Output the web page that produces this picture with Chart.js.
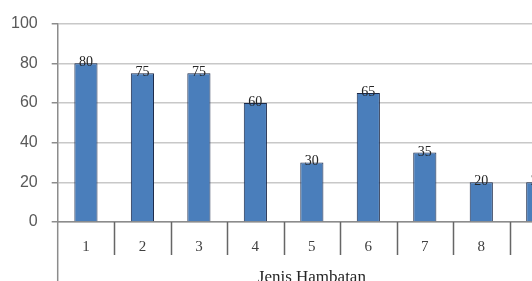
<!DOCTYPE html>
<html>
<head>
<meta charset="utf-8">
<script src="https://cdn.jsdelivr.net/npm/chart.js@4.4.0/dist/chart.umd.min.js"></script>
<style>
  html, body { margin: 0; padding: 0; background: #fff; overflow: hidden; }
  canvas { position: absolute; left: 0; top: 0; }
</style>
</head>
<body>
<canvas id="chart" width="566" height="288"></canvas>
<script>
// Jenis Hambatan chart data
const categories = ["1", "2", "3", "4", "5", "6", "7", "8", "9"];
const values = [80, 75, 75, 60, 30, 65, 35, 20, 20];
const yTicks = [0, 20, 40, 60, 80, 100];
const xTitle = "Jenis Hambatan";

// Value labels sitting on top of each bar
const barLabels = {
  id: "barLabels",
  afterDatasetsDraw(chart) {
    const ctx = chart.ctx;
    const meta = chart.getDatasetMeta(0);
    ctx.save();
    ctx.font = "14px 'Liberation Serif', serif";
    ctx.fillStyle = "#262626";
    ctx.textAlign = "center";
    ctx.textBaseline = "alphabetic";
    meta.data.forEach((bar, i) => {
      ctx.fillText(String(values[i]), bar.x, bar.y + 3);
    });
    ctx.restore();
  },
};

// Category separators below the axis, and the y axis line running on down
const axisExtras = {
  id: "axisExtras",
  afterDraw(chart) {
    const ctx = chart.ctx;
    const a = chart.chartArea;
    const xs = chart.scales.x;
    const step = xs.getPixelForValue(1) - xs.getPixelForValue(0);
    ctx.save();
    ctx.strokeStyle = "#666";
    ctx.lineWidth = 1.5;
    ctx.beginPath();
    for (let i = 1; i <= categories.length; i++) {
      const x = Math.round(xs.getPixelForValue(i - 1) + step / 2) + 0.5;
      ctx.moveTo(x, a.bottom);
      ctx.lineTo(x, a.bottom + 33);
    }
    ctx.stroke();
    ctx.strokeStyle = "#8c8c8c";
    ctx.beginPath();
    ctx.moveTo(a.left, a.bottom);
    ctx.lineTo(a.left, chart.height);
    ctx.stroke();
    ctx.restore();
  },
};

new Chart(document.getElementById("chart"), {
  type: "bar",
  data: {
    labels: categories,
    datasets: [
      {
        data: values,
        backgroundColor: "#4a7ebb",
        borderColor: "#1c2a4a",
        borderWidth: 1,
        barPercentage: 0.41,
        categoryPercentage: 1,
      },
    ],
  },
  options: {
    responsive: false,
    animation: false,
    devicePixelRatio: 1,
    layout: { padding: { left: -3, top: 14, right: 0, bottom: 0 } },
    plugins: { legend: { display: false }, tooltip: { enabled: false } },
    scales: {
      x: {
        offset: true,
        afterFit: (scale) => {
          scale.height = 66;
        },
        grid: { display: false, drawTicks: false },
        border: { color: "#8c8c8c", width: 1.5 },
        ticks: {
          padding: 16,
          color: "#404040",
          font: { family: "'Liberation Serif', serif", size: 15 },
        },
        title: {
          display: true,
          text: xTitle,
          color: "#262626",
          font: { family: "'Liberation Serif', serif", size: 17 },
          padding: { top: 0, bottom: 0 },
        },
      },
      y: {
        min: 0,
        max: 100,
        afterBuildTicks: (axis) => {
          axis.ticks = yTicks.map((v) => ({ value: v }));
        },
        grid: { color: "#c8c8c8", lineWidth: 1.5, tickLength: 6, tickColor: "#8c8c8c" },
        border: { color: "#8c8c8c", width: 1.5 },
        ticks: {
          padding: 14,
          color: "#595959",
          font: { family: "'Liberation Sans', Arial, sans-serif", size: 16 },
        },
      },
    },
  },
  plugins: [barLabels, axisExtras],
});
</script>
</body>
</html>
